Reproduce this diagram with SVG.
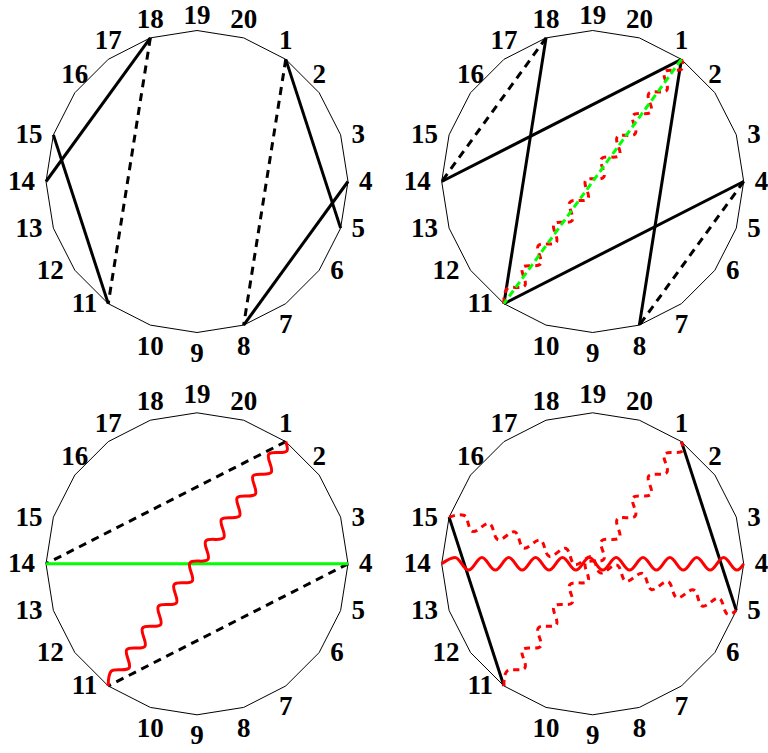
<svg xmlns="http://www.w3.org/2000/svg" xmlns:xlink="http://www.w3.org/1999/xlink" width="768" height="753" viewBox="0 0 768 753">
<style>
.bg{fill:#fff}
.poly{fill:none;stroke:#000;stroke-width:1}
.a{text-anchor:middle}
.r{text-anchor:start}
.l{text-anchor:end}
.solid{stroke:#000;stroke-width:3;fill:none}
.dash{stroke:#000;stroke-width:3;fill:none;stroke-dasharray:8 6}
.green{stroke:#00ff00;stroke-width:3;fill:none}
.gdash{stroke:#00ff00;stroke-width:3;fill:none;stroke-dasharray:7 4}
.rw{stroke:#ff0000;stroke-width:3;fill:none}
.rwd{stroke:#ff0000;stroke-width:3;fill:none;stroke-dasharray:6 5}
</style>
<defs>
<polygon id="poly20" points="0,-151 46.66,-143.61 88.76,-122.16 122.16,-88.76 143.61,-46.66 151,0 143.61,46.66 122.16,88.76 88.76,122.16 46.66,143.61 0,151 -46.66,143.61 -88.76,122.16 -122.16,88.76 -143.61,46.66 -151,0 -143.61,-46.66 -122.16,-88.76 -88.76,-122.16 -46.66,-143.61"/>
<path id="wave" d="M-151,0 c4.353,-3.227 8.519,-6.3 13.35,-6.3
c2.429,0 4.524,3.073 6.713,6.3 c2.189,3.227 4.284,6.3 6.713,6.3 c2.429,0 4.524,-3.073 6.713,-6.3 c2.189,-3.227 4.284,-6.3 6.713,-6.3
c2.429,0 4.524,3.073 6.713,6.3 c2.189,3.227 4.284,6.3 6.713,6.3 c2.429,0 4.524,-3.073 6.713,-6.3 c2.189,-3.227 4.284,-6.3 6.713,-6.3
c2.429,0 4.524,3.073 6.713,6.3 c2.189,3.227 4.284,6.3 6.713,6.3 c2.429,0 4.524,-3.073 6.713,-6.3 c2.189,-3.227 4.284,-6.3 6.713,-6.3
c2.429,0 4.524,3.073 6.713,6.3 c2.189,3.227 4.284,6.3 6.713,6.3 c2.429,0 4.524,-3.073 6.713,-6.3 c2.189,-3.227 4.284,-6.3 6.713,-6.3
c2.429,0 4.524,3.073 6.713,6.3 c2.189,3.227 4.284,6.3 6.713,6.3 c2.429,0 4.524,-3.073 6.713,-6.3 c2.189,-3.227 4.284,-6.3 6.713,-6.3
c2.429,0 4.524,3.073 6.713,6.3 c2.189,3.227 4.284,6.3 6.713,6.3 c2.429,0 4.524,-3.073 6.713,-6.3 c2.189,-3.227 4.284,-6.3 6.713,-6.3
c2.429,0 4.524,3.073 6.713,6.3 c2.189,3.227 4.284,6.3 6.713,6.3 c2.429,0 4.524,-3.073 6.713,-6.3 c2.189,-3.227 4.284,-6.3 6.713,-6.3
c2.429,0 4.524,3.073 6.713,6.3 c2.189,3.227 4.284,6.3 6.713,6.3 c2.429,0 4.524,-3.073 6.713,-6.3 c2.189,-3.227 4.284,-6.3 6.713,-6.3
c2.429,0 4.524,3.073 6.713,6.3 c2.189,3.227 4.284,6.3 6.713,6.3 c2.429,0 4.524,-3.073 6.713,-6.3 c2.189,-3.227 4.284,-6.3 6.713,-6.3
c2.429,0 4.524,3.073 6.713,6.3 c2.189,3.227 4.284,6.3 6.713,6.3 c2.429,0 4.524,-3.073 6.713,-6.3 c2.189,-3.227 4.284,-6.3 6.713,-6.3
c2.429,0 4.524,3.073 6.713,6.3 c2.189,3.227 4.284,6.3 6.713,6.3 c2.429,0 4.524,-3.073 6.713,-6.3"/>
</defs>
<rect class="bg" x="0" y="0" width="768" height="753"/>

<!-- Panel 1 -->
<g id="panel1" transform="translate(197,181.5)">
<g id="p1-polygon"><use xlink:href="#poly20" href="#poly20" class="poly"/></g>
<g id="p1-labels" font-family="'Liberation Serif', 'Times New Roman', serif" font-weight="bold" font-size="27" fill="#000">
<text class="a" x="88.8" y="-132.2">1</text>
<text class="a" x="122.2" y="-98.8">2</text>
<text class="r" x="154.6" y="-38.2">3</text>
<text class="r" x="162" y="8.5">4</text>
<text class="r" x="154.6" y="55.2">5</text>
<text class="r" x="133.2" y="97.3">6</text>
<text class="a" x="88.8" y="151.7">7</text>
<text class="a" x="46.7" y="173.1">8</text>
<text class="a" x="0" y="180.5">9</text>
<text class="a" x="-46.7" y="173.1">10</text>
<text class="l" x="-99.8" y="130.7">11</text>
<text class="l" x="-133.2" y="97.3">12</text>
<text class="l" x="-154.6" y="55.2">13</text>
<text class="l" x="-162" y="8.5">14</text>
<text class="l" x="-154.6" y="-38.2">15</text>
<text class="a" x="-122.2" y="-98.8">16</text>
<text class="a" x="-88.8" y="-132.2">17</text>
<text class="a" x="-46.7" y="-153.6">18</text>
<text class="a" x="0" y="-158">19</text>
<text class="a" x="46.7" y="-153.6">20</text>
</g>
<g id="p1-connectors">
<line class="solid" x1="-46.66" y1="-143.61" x2="-151" y2="0"/>
<line class="solid" x1="-143.61" y1="-46.66" x2="-88.76" y2="122.16"/>
<line class="solid" x1="88.76" y1="-122.16" x2="143.61" y2="46.66"/>
<line class="solid" x1="151" y1="0" x2="46.66" y2="143.61"/>
<line class="dash" x1="-46.66" y1="-143.61" x2="-88.76" y2="122.16"/>
<line class="dash" x1="88.76" y1="-122.16" x2="46.66" y2="143.61"/>
</g>
</g>

<!-- Panel 2 -->
<g id="panel2" transform="translate(592.7,181.5)">
<g id="p2-polygon"><use xlink:href="#poly20" href="#poly20" class="poly"/></g>
<g id="p2-labels" font-family="'Liberation Serif', 'Times New Roman', serif" font-weight="bold" font-size="27" fill="#000">
<text class="a" x="88.8" y="-132.2">1</text>
<text class="a" x="122.2" y="-98.8">2</text>
<text class="r" x="154.6" y="-38.2">3</text>
<text class="r" x="162" y="8.5">4</text>
<text class="r" x="154.6" y="55.2">5</text>
<text class="r" x="133.2" y="97.3">6</text>
<text class="a" x="88.8" y="151.7">7</text>
<text class="a" x="46.7" y="173.1">8</text>
<text class="a" x="0" y="180.5">9</text>
<text class="a" x="-46.7" y="173.1">10</text>
<text class="l" x="-99.8" y="130.7">11</text>
<text class="l" x="-133.2" y="97.3">12</text>
<text class="l" x="-154.6" y="55.2">13</text>
<text class="l" x="-162" y="8.5">14</text>
<text class="l" x="-154.6" y="-38.2">15</text>
<text class="a" x="-122.2" y="-98.8">16</text>
<text class="a" x="-88.8" y="-132.2">17</text>
<text class="a" x="-46.7" y="-153.6">18</text>
<text class="a" x="0" y="-158">19</text>
<text class="a" x="46.7" y="-153.6">20</text>
</g>
<g id="p2-connectors">
<line class="solid" x1="-46.66" y1="-143.61" x2="-88.76" y2="122.16"/>
<line class="solid" x1="88.76" y1="-122.16" x2="-151" y2="0"/>
<line class="solid" x1="88.76" y1="-122.16" x2="46.66" y2="143.61"/>
<line class="solid" x1="151" y1="0" x2="-88.76" y2="122.16"/>
<line class="dash" x1="-46.66" y1="-143.61" x2="-151" y2="0"/>
<line class="dash" x1="151" y1="0" x2="46.66" y2="143.61"/>
<use xlink:href="#wave" href="#wave" class="rwd" transform="rotate(-54)"/>
<line class="gdash" x1="88.76" y1="-122.16" x2="-88.76" y2="122.16"/>
</g>
</g>

<!-- Panel 3 -->
<g id="panel3" transform="translate(197,563.8)">
<g id="p3-polygon"><use xlink:href="#poly20" href="#poly20" class="poly"/></g>
<g id="p3-labels" font-family="'Liberation Serif', 'Times New Roman', serif" font-weight="bold" font-size="27" fill="#000">
<text class="a" x="88.8" y="-132.2">1</text>
<text class="a" x="122.2" y="-98.8">2</text>
<text class="r" x="154.6" y="-38.2">3</text>
<text class="r" x="162" y="8.5">4</text>
<text class="r" x="154.6" y="55.2">5</text>
<text class="r" x="133.2" y="97.3">6</text>
<text class="a" x="88.8" y="151.7">7</text>
<text class="a" x="46.7" y="173.1">8</text>
<text class="a" x="0" y="180.5">9</text>
<text class="a" x="-46.7" y="173.1">10</text>
<text class="l" x="-99.8" y="130.7">11</text>
<text class="l" x="-133.2" y="97.3">12</text>
<text class="l" x="-154.6" y="55.2">13</text>
<text class="l" x="-162" y="8.5">14</text>
<text class="l" x="-154.6" y="-38.2">15</text>
<text class="a" x="-122.2" y="-98.8">16</text>
<text class="a" x="-88.8" y="-132.2">17</text>
<text class="a" x="-46.7" y="-153.6">18</text>
<text class="a" x="0" y="-160.5">19</text>
<text class="a" x="46.7" y="-153.6">20</text>
</g>
<g id="p3-connectors">
<line class="dash" x1="88.76" y1="-122.16" x2="-151" y2="0"/>
<line class="dash" x1="151" y1="0" x2="-88.76" y2="122.16"/>
<line class="green" x1="-151" y1="0" x2="151" y2="0"/>
<use xlink:href="#wave" href="#wave" class="rw" transform="rotate(-54)"/>
</g>
</g>

<!-- Panel 4 -->
<g id="panel4" transform="translate(592.7,563.8)">
<g id="p4-polygon"><use xlink:href="#poly20" href="#poly20" class="poly"/></g>
<g id="p4-labels" font-family="'Liberation Serif', 'Times New Roman', serif" font-weight="bold" font-size="27" fill="#000">
<text class="a" x="88.8" y="-132.2">1</text>
<text class="a" x="122.2" y="-98.8">2</text>
<text class="r" x="154.6" y="-38.2">3</text>
<text class="r" x="162" y="8.5">4</text>
<text class="r" x="154.6" y="55.2">5</text>
<text class="r" x="133.2" y="97.3">6</text>
<text class="a" x="88.8" y="151.7">7</text>
<text class="a" x="46.7" y="173.1">8</text>
<text class="a" x="0" y="180.5">9</text>
<text class="a" x="-46.7" y="173.1">10</text>
<text class="l" x="-99.8" y="130.7">11</text>
<text class="l" x="-133.2" y="97.3">12</text>
<text class="l" x="-154.6" y="55.2">13</text>
<text class="l" x="-162" y="8.5">14</text>
<text class="l" x="-154.6" y="-38.2">15</text>
<text class="a" x="-122.2" y="-98.8">16</text>
<text class="a" x="-88.8" y="-132.2">17</text>
<text class="a" x="-46.7" y="-153.6">18</text>
<text class="a" x="0" y="-160.5">19</text>
<text class="a" x="46.7" y="-153.6">20</text>
</g>
<g id="p4-connectors">
<line class="solid" x1="-143.61" y1="-46.66" x2="-88.76" y2="122.16"/>
<line class="solid" x1="88.76" y1="-122.16" x2="143.61" y2="46.66"/>
<use xlink:href="#wave" href="#wave" class="rw"/>
<use xlink:href="#wave" href="#wave" class="rwd" transform="rotate(18)"/>
<use xlink:href="#wave" href="#wave" class="rwd" transform="rotate(-54)"/>
</g>
</g>
</svg>
